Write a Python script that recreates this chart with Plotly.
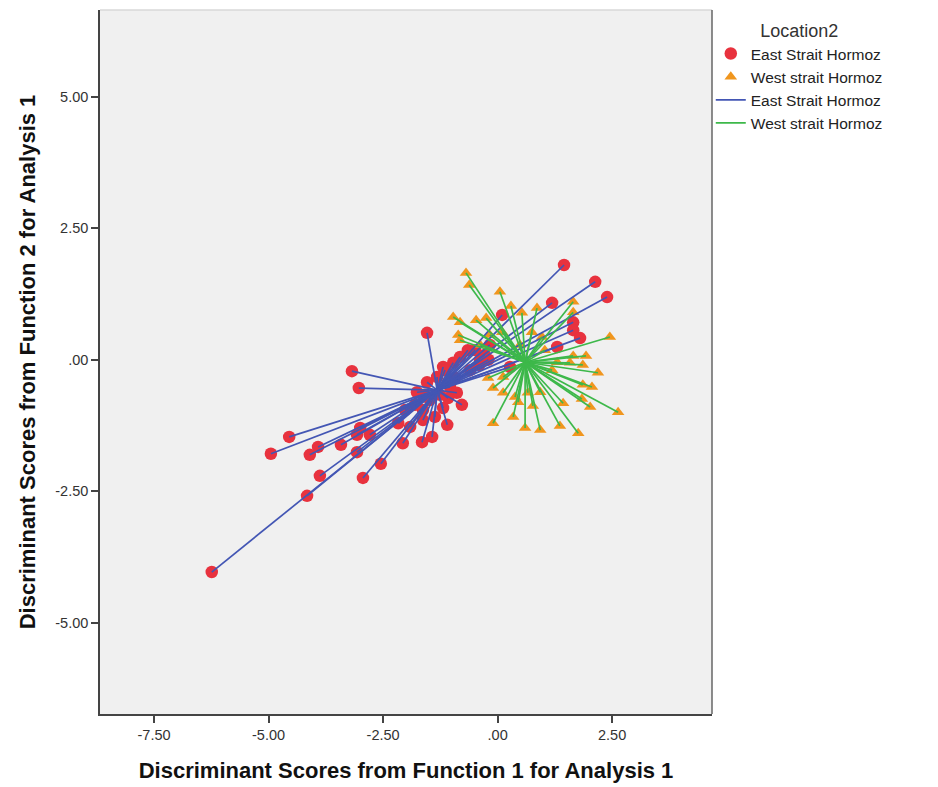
import plotly.graph_objects as go

# Discriminant scores (Function 1, Function 2) per case, by location
east_f1 = [-6.24, -4.95, -4.55, -4.16, -4.10, -3.92, -3.88, -3.42, -3.18, -3.03,
           -3.00, -3.07, -2.79, -3.07, -2.94, -2.55, -2.07, -1.43, -1.10, -2.17,
           -1.91, -1.63, -1.37, -1.63, -1.19, -1.76, -1.32, -1.54, -1.54, -1.19,
           -0.97, -1.04, -0.89, -0.78, -1.65, -0.65, -0.82, -1.15, -0.38, 0.27,
           0.10, 1.45, 2.13, 2.39, 1.19, 1.65, 1.65, 1.80, 1.30,
           -1.59, -1.26, -0.93, -0.60, -0.49, -0.28, -0.17, -1.08, -1.48, -1.80, -2.02,
           -0.40, -0.20]
east_f2 = [-4.04, -1.79, -1.47, -2.59, -1.81, -1.66, -2.21, -1.62, -0.22, -0.54,
           -1.30, -1.43, -1.43, -1.76, -2.25, -1.98, -1.59, -1.47, -1.24, -1.21,
           -1.28, -1.15, -1.09, -0.96, -0.92, -0.62, -0.33, -0.43, 0.51, -0.14,
           -0.06, -0.52, -0.63, -0.86, -1.57, 0.18, 0.05, -0.20, -0.01, -0.14,
           0.85, 1.80, 1.48, 1.19, 1.08, 0.71, 0.56, 0.41, 0.24,
           -0.67, -0.67, -0.35, -0.20, 0.18, 0.09, 0.28, -0.73, -0.77, -0.86, -0.96,
           -0.10, 0.00]

west_f1 = [-0.69, -0.62, 0.05, 0.29, 0.53, 0.86, 1.65, 1.65, 2.45, -0.97,
           -0.82, -0.47, -0.25, -0.86, -0.82, 0.75, 0.97, 0.10, 1.65, 1.93,
           1.86, 2.19, 1.30, 1.58, 1.19, 1.86, 2.06, 1.43, 1.84, 2.02,
           2.63, -0.10, 0.12, 0.38, 0.66, 0.93, 0.77, 0.45, 0.34, -0.10,
           0.60, 0.93, 1.36, 1.76, 0.12, -0.21, -0.38, -0.17, 0.49, 1.03]
west_f2 = [1.65, 1.42, 1.29, 1.02, 0.89, 0.98, 1.10, 0.90, 0.43, 0.81,
           0.71, 0.75, 0.79, 0.47, 0.37, 0.52, 0.43, 0.52, 0.07, 0.07,
           -0.10, -0.25, -0.05, -0.06, -0.20, -0.48, -0.52, -0.83, -0.75, -0.90,
           -1.00, -0.54, -0.63, -0.71, -0.63, -0.62, -0.88, -0.81, -1.09, -1.21,
           -1.30, -1.34, -1.26, -1.40, -0.33, -0.35, 0.28, 0.47, 0.28, 0.18]

# Group centroids
east_centroid = (-1.32, -0.58)
west_centroid = (0.60, -0.05)

group_names = ["East Strait Hormoz", "West strait Hormoz"]
tick_vals_x = [-7.5, -5.0, -2.5, 0.0, 2.5]
tick_text_x = ["-7.50", "-5.00", "-2.50", ".00", "2.50"]
tick_vals_y = [-5.0, -2.5, 0.0, 2.5, 5.0]
tick_text_y = ["-5.00", "-2.50", ".00", "2.50", "5.00"]

RED = "#E8323E"
ORANGE = "#F0961E"
BLUE = "#4356B4"
GREEN = "#3DB84A"
FONT = "Liberation Sans, Arial, sans-serif"


def spokes(xs, ys, centre):
    lx, ly = [], []
    for x, y in zip(xs, ys):
        lx += [x, centre[0], None]
        ly += [y, centre[1], None]
    return lx, ly


fig = go.Figure()

fig.add_trace(go.Scatter(
    x=east_f1, y=east_f2, mode="markers", name=group_names[0],
    marker=dict(symbol="circle", size=12.5, color=RED, line=dict(width=0)),
))
fig.add_trace(go.Scatter(
    x=west_f1, y=west_f2, mode="markers", name=group_names[1],
    marker=dict(symbol="triangle-up", size=11, color=ORANGE, line=dict(width=0)),
))

ex, ey = spokes(east_f1, east_f2, east_centroid)
wx, wy = spokes(west_f1, west_f2, west_centroid)
fig.add_trace(go.Scatter(
    x=ex, y=ey, mode="lines", name=group_names[0],
    line=dict(color=BLUE, width=1.7),
))
fig.add_trace(go.Scatter(
    x=wx, y=wy, mode="lines", name=group_names[1],
    line=dict(color=GREEN, width=1.7),
))

axis_font = dict(family=FONT, size=14.5, color="#333333")
title_font = dict(family=FONT, size=22, color="#111111")

fig.update_layout(
    width=938, height=787,
    margin=dict(l=100, r=226, t=10, b=73, autoexpand=False),
    paper_bgcolor="white",
    plot_bgcolor="#F0F0F0",
    showlegend=True,
    legend=dict(
        x=0.998, y=0.995, xanchor="left", yanchor="top",
        bgcolor="rgba(0,0,0,0)",
        font=dict(family=FONT, size=15.5, color="#222222"),
        title=dict(text="Location2", side="top center",
                   font=dict(family=FONT, size=18, color="#333333")),
        tracegroupgap=0, itemwidth=30,
    ),
    xaxis=dict(
        range=[-8.68, 4.68], tickvals=tick_vals_x, ticktext=tick_text_x,
        showgrid=False, zeroline=False, automargin=False,
        showline=True, linecolor="#444444", linewidth=1.5, mirror=False,
        ticks="outside", ticklen=7, tickwidth=1.5, tickcolor="#444444",
        tickfont=axis_font,
        title=dict(text="<b>Discriminant Scores from Function 1 for Analysis 1</b>",
                   font=title_font, standoff=20),
    ),
    yaxis=dict(
        range=[-6.74, 6.65], tickvals=tick_vals_y, ticktext=tick_text_y,
        showgrid=False, zeroline=False, automargin=False,
        showline=True, linecolor="#444444", linewidth=1.5, mirror=False,
        ticks="outside", ticklen=7, tickwidth=1.5, tickcolor="#444444",
        tickfont=axis_font,
        title=dict(text="<b>Discriminant Scores from Function 2 for Analysis 1</b>",
                   font=title_font, standoff=14),
    ),
)

# Frame on the top and right of the plotting area
fig.add_shape(type="line", xref="paper", yref="paper", x0=0, x1=1, y0=1, y1=1,
              line=dict(color="#D8D8D8", width=1.5))
fig.add_shape(type="line", xref="paper", yref="paper", x0=1, x1=1, y0=0, y1=1,
              line=dict(color="#666666", width=1.5))

fig.write_html("out.html")
